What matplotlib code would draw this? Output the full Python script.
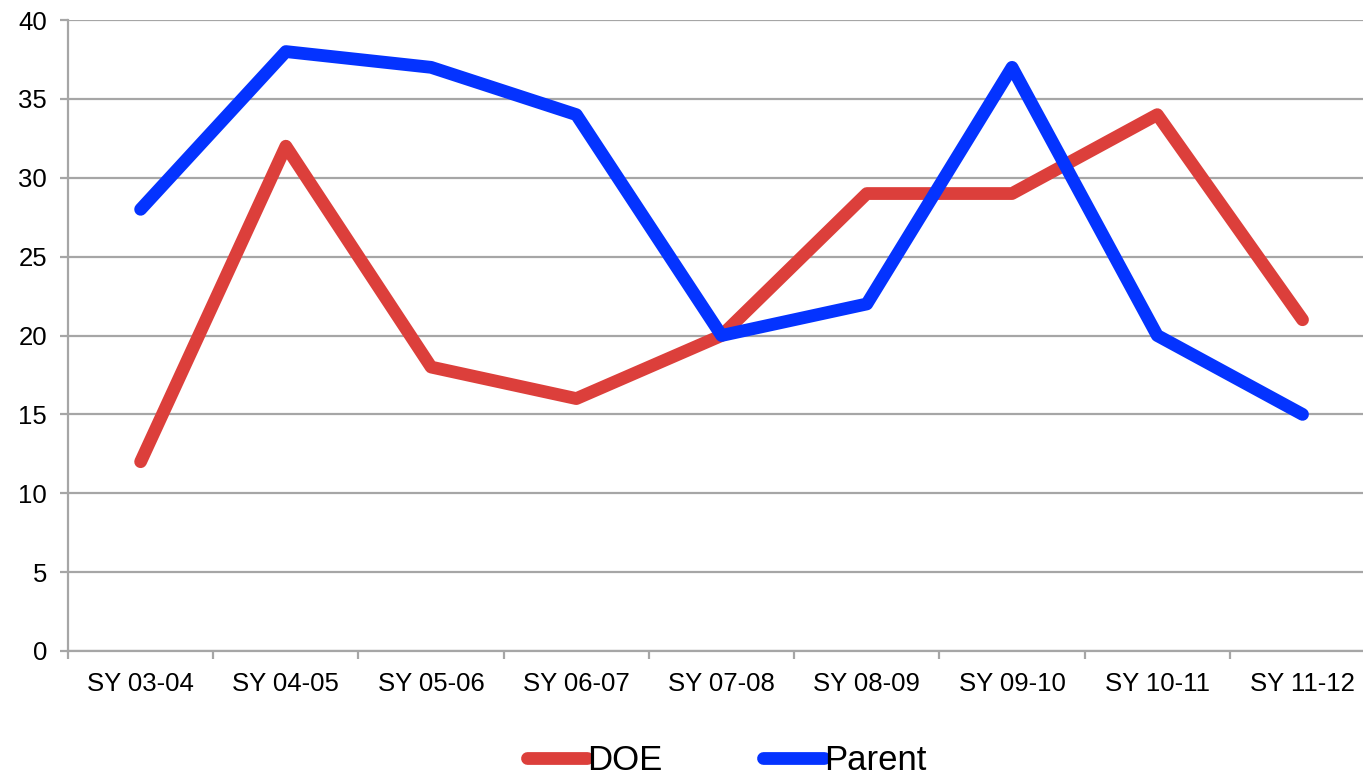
import numpy as np
import matplotlib.pyplot as plt
from matplotlib.ticker import FixedLocator, NullFormatter

plt.rcParams['font.family'] = ['Liberation Sans', 'DejaVu Sans']

years = ['SY 03-04', 'SY 04-05', 'SY 05-06', 'SY 06-07', 'SY 07-08',
         'SY 08-09', 'SY 09-10', 'SY 10-11', 'SY 11-12']
doe = [12, 32, 18, 16, 20, 29, 29, 34, 21]
parent = [28, 38, 37, 34, 20, 22, 37, 20, 15]

grid_color = '#a6a6a6'

fig = plt.figure(figsize=(13.63, 7.76), dpi=100)
# the plot area runs a little past the right edge of the picture
ax = fig.add_axes([0.0499, 0.1611, 0.959, 0.8131])

x = np.arange(len(years))
ax.plot(x, doe, color='#dc3f3b', lw=9.2, solid_capstyle='round',
        solid_joinstyle='round', label='DOE', zorder=3)
ax.plot(x, parent, color='#0433ff', lw=9.2, solid_capstyle='round',
        solid_joinstyle='round', label='Parent', zorder=4)

ax.set_xlim(-0.5, len(years) - 0.5)
ax.set_ylim(0, 40)
ax.set_yticks(np.arange(0, 41, 5))
ax.yaxis.grid(True, color=grid_color, lw=1.6)
ax.set_axisbelow(True)

# category boundaries as ticks, labels at centers
ax.xaxis.set_major_locator(FixedLocator(np.arange(-0.5, len(years), 1.0)))
ax.xaxis.set_major_formatter(NullFormatter())
ax.xaxis.set_minor_locator(FixedLocator(x))
ax.set_xticklabels(years, minor=True)
ax.tick_params(axis='x', which='major', length=6, width=1.6, color=grid_color)
ax.tick_params(axis='x', which='minor', length=0, pad=15, labelsize=18.5)
ax.tick_params(axis='y', length=6, width=1.6, color=grid_color, pad=9, labelsize=18.5)

for s in ['top', 'right']:
    ax.spines[s].set_visible(False)
for s in ['left', 'bottom']:
    ax.spines[s].set_color(grid_color)
    ax.spines[s].set_linewidth(1.6)

leg = fig.legend(loc='center', bbox_to_anchor=(0.533, 0.02), ncol=2,
                 frameon=False, fontsize=25, handlelength=1.75,
                 handletextpad=0.0, columnspacing=2.9)

fig.savefig('out.png', dpi=100)
